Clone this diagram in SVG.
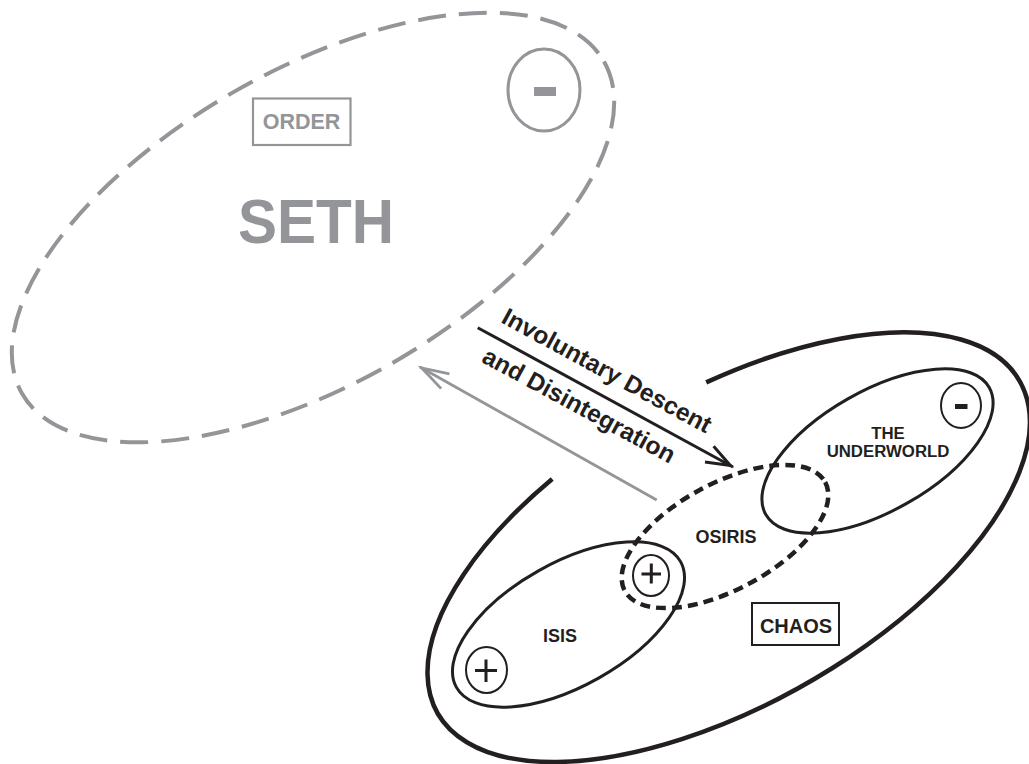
<svg xmlns="http://www.w3.org/2000/svg" width="1029" height="764" viewBox="0 0 1029 764">
<style>
.gs{stroke:#939598;fill:none}
.ks{stroke:#231f20;fill:none}
.t{font-family:"Liberation Sans",Arial,Helvetica,sans-serif;font-weight:bold;text-anchor:middle}
.tk{fill:#231f20}
.tg{fill:#939598}
</style>
<defs>
<marker id="ahk" markerUnits="userSpaceOnUse" markerWidth="40" markerHeight="30" viewBox="-30 -15 40 30" refX="0" refY="0" orient="auto" overflow="visible">
<path d="M-27,-9 L-3,0 L-27,9" fill="none" stroke="#231f20" stroke-width="3"/>
</marker>
<marker id="ahg" markerUnits="userSpaceOnUse" markerWidth="40" markerHeight="30" viewBox="-30 -15 40 30" refX="0" refY="0" orient="auto" overflow="visible">
<path d="M-29,-8.5 L-2,0 L-29,8.5" fill="none" stroke="#939598" stroke-width="2.8"/>
</marker>
</defs>
<rect x="0" y="0" width="1029" height="764" fill="#ffffff"/>

<g id="seth">
<ellipse class="gs" cx="313" cy="227.5" rx="335" ry="157" transform="rotate(-29.7 313 227.5)" stroke-width="4" stroke-dasharray="28 13"/>
<text class="t tg" x="316" y="243" font-size="63" textLength="156" lengthAdjust="spacingAndGlyphs">SETH</text>
</g>
<g id="order">
<rect class="gs" x="253" y="98.5" width="97.5" height="46.5" stroke-width="2.2"/>
<text class="t tg" x="301.5" y="129" font-size="21.5">ORDER</text>
</g>
<g id="seth-minus">
<ellipse class="gs" cx="544" cy="90" rx="36" ry="41" stroke-width="3"/>
<rect x="534" y="87" width="22" height="9" fill="#939598"/>
</g>

<g id="chaos-region">
<path class="ks" d="M706.2,382.4 A335 157 -29.7 1 1 552.2,479" stroke-width="4.5"/>
</g>
<g id="chaos-label">
<rect class="ks" x="752" y="603" width="87" height="42" stroke-width="2"/>
<text class="t tk" x="796" y="633" font-size="20">CHAOS</text>
</g>

<g id="isis">
<ellipse class="ks" cx="568.5" cy="624.5" rx="128.5" ry="61.5" transform="rotate(-29.3 568.5 624.5)" stroke-width="3"/>
<text class="t tk" x="560" y="642" font-size="18">ISIS</text>
<ellipse class="ks" cx="486.5" cy="670" rx="20.5" ry="23" stroke-width="2"/>
<path class="ks" d="M475,670.5 H497 M486,659.5 V682" stroke-width="3"/>
</g>

<g id="underworld">
<ellipse class="ks" cx="877.5" cy="451" rx="128.5" ry="60" transform="rotate(-29.6 877.5 451)" stroke-width="3"/>
<text class="t tk" x="888" y="439" font-size="16.8">THE</text>
<text class="t tk" x="888" y="457" font-size="16.8">UNDERWORLD</text>
<ellipse class="ks" cx="961" cy="405.5" rx="20" ry="22.5" stroke-width="2"/>
<rect x="955" y="404" width="12.5" height="5" fill="#231f20"/>
</g>

<g id="osiris">
<ellipse class="ks" cx="725" cy="536.5" rx="114" ry="53" transform="rotate(-28.5 725 536.5)" stroke-width="4.5" stroke-dasharray="10 6"/>
<text class="t tk" x="726" y="543" font-size="18">OSIRIS</text>
<ellipse class="ks" cx="651" cy="575.5" rx="18" ry="20.5" stroke-width="2"/>
<path class="ks" d="M641.5,574 H661 M651.3,563.5 V583.5" stroke-width="3"/>
</g>

<g id="connectors">
<line x1="477.7" y1="327.7" x2="733" y2="467" stroke="#231f20" stroke-width="3" marker-end="url(#ahk)"/>
<line x1="656.7" y1="500" x2="420" y2="367" stroke="#939598" stroke-width="2.8" marker-end="url(#ahg)"/>
<text class="tk" font-family="Liberation Sans, Arial, sans-serif" font-weight="bold" font-size="24.5" transform="translate(500 322) rotate(28.5)">Involuntary Descent</text>
<text class="tk" font-family="Liberation Sans, Arial, sans-serif" font-weight="bold" font-size="24.5" transform="translate(480.5 361.5) rotate(28.4)">and Disintegration</text>
</g>
</svg>
